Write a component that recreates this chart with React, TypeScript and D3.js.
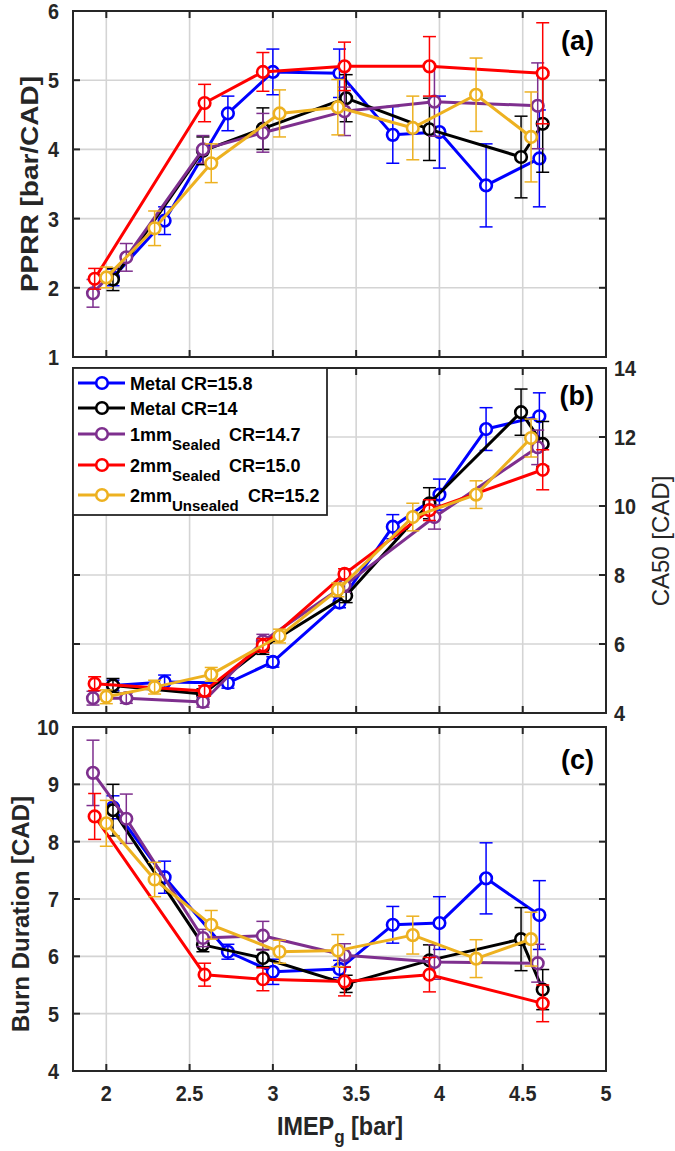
import React from 'react';
import * as d3 from 'd3';

// ---------- DATA ----------
const SERIES_NAMES = ['Metal', 'Metal', '1mm', '2mm', '2mm'];
const SERIES_SUBS = ['', '', 'Sealed', 'Sealed', 'Unsealed'];
const SERIES_CR = ['CR=15.8', 'CR=14', 'CR=14.7', 'CR=15.0', 'CR=15.2'];
const SERIES_COLORS = ['#0000FF', '#000000', '#7E2F8E', '#FF0000', '#EDB120'];

// IMEPg [bar]
const X_METAL158 = [2.04, 2.35, 2.73, 3.0, 3.4, 3.72, 4.0, 4.28, 4.6];
const X_METAL14 = [2.04, 2.58, 2.94, 3.44, 3.94, 4.49, 4.62];
const X_1MM_S = [1.92, 2.12, 2.58, 2.94, 3.43, 3.97, 4.59];
const X_2MM_S = [1.93, 2.59, 2.94, 3.43, 3.94, 4.62];
const X_2MM_U = [2.0, 2.29, 2.63, 3.04, 3.39, 3.84, 4.22, 4.55];

// (a) PPRR [bar/CAD]
const PPRR_METAL158 = [2.15, 2.97, 4.52, 5.12, 5.1, 4.21, 4.25, 3.48, 3.87];
const PPRR_METAL158_ERR = [0.12, 0.2, 0.25, 0.33, 0.35, 0.41, 0.52, 0.6, 0.7];
const PPRR_METAL14 = [2.12, 3.98, 4.3, 4.74, 4.29, 3.89, 4.37];
const PPRR_METAL14_ERR = [0.16, 0.2, 0.3, 0.34, 0.45, 0.59, 0.7];
const PPRR_1MM_S = [1.92, 2.44, 4.0, 4.24, 4.55, 4.69, 4.63];
const PPRR_1MM_S_ERR = [0.2, 0.2, 0.2, 0.28, 0.35, 0.5, 0.62];
const PPRR_2MM_S = [2.13, 4.67, 5.12, 5.2, 5.2, 5.1];
const PPRR_2MM_S_ERR = [0.15, 0.27, 0.28, 0.35, 0.43, 0.73];
const PPRR_2MM_U = [2.15, 2.86, 3.8, 4.52, 4.61, 4.31, 4.79, 4.18];
const PPRR_2MM_U_ERR = [0.15, 0.25, 0.28, 0.34, 0.4, 0.46, 0.53, 0.65];

// (b) CA50 [CAD]
const CA50_METAL158 = [4.8, 4.9, 4.87, 5.48, 7.2, 9.4, 10.33, 12.23, 12.6];
const CA50_METAL158_ERR = [0.15, 0.2, 0.15, 0.15, 0.15, 0.35, 0.45, 0.62, 0.68];
const CA50_METAL14 = [4.8, 4.55, 5.9, 7.4, 10.08, 12.72, 11.8];
const CA50_METAL14_ERR = [0.2, 0.15, 0.2, 0.2, 0.45, 0.67, 0.65];
const CA50_1MM_S = [4.43, 4.43, 4.32, 6.08, 7.7, 9.68, 11.7];
const CA50_1MM_S_ERR = [0.2, 0.15, 0.15, 0.2, 0.2, 0.35, 0.5];
const CA50_2MM_S = [4.85, 4.64, 5.96, 8.03, 9.88, 11.05];
const CA50_2MM_S_ERR = [0.2, 0.15, 0.2, 0.15, 0.3, 0.58];
const CA50_2MM_U = [4.47, 4.75, 5.12, 6.23, 7.57, 9.68, 10.33, 11.97];
const CA50_2MM_U_ERR = [0.2, 0.2, 0.2, 0.2, 0.2, 0.4, 0.4, 0.55];

// (c) Burn Duration [CAD]
const BD_METAL158 = [8.6, 7.38, 6.08, 5.73, 5.78, 6.55, 6.58, 7.36, 6.72];
const BD_METAL158_ERR = [0.2, 0.28, 0.13, 0.22, 0.15, 0.32, 0.46, 0.62, 0.6];
const BD_METAL14 = [8.55, 6.2, 5.97, 5.52, 5.93, 6.3, 5.42];
const BD_METAL14_ERR = [0.45, 0.12, 0.15, 0.15, 0.27, 0.55, 0.35];
const BD_1MM_S = [9.2, 8.4, 6.32, 6.36, 6.02, 5.9, 5.88];
const BD_1MM_S_ERR = [0.57, 0.43, 0.15, 0.25, 0.2, 0.3, 0.33];
const BD_2MM_S = [8.44, 5.68, 5.6, 5.56, 5.68, 5.18];
const BD_2MM_S_ERR = [0.4, 0.2, 0.2, 0.25, 0.3, 0.32];
const BD_2MM_U = [8.32, 7.34, 6.55, 6.08, 6.1, 6.37, 5.96, 6.3];
const BD_2MM_U_ERR = [0.4, 0.3, 0.25, 0.2, 0.28, 0.33, 0.33, 0.47];

const X_TICKS = [2, 2.5, 3, 3.5, 4, 4.5, 5];
const PPRR_TICKS = [1, 2, 3, 4, 5, 6];
const CA50_TICKS = [4, 6, 8, 10, 12, 14];
const BD_TICKS = [4, 5, 6, 7, 8, 9, 10];

// ---------- BUILD ----------
const XS = [X_METAL158, X_METAL14, X_1MM_S, X_2MM_S, X_2MM_U];
const PPRR = [PPRR_METAL158, PPRR_METAL14, PPRR_1MM_S, PPRR_2MM_S, PPRR_2MM_U];
const PPRR_ERR = [PPRR_METAL158_ERR, PPRR_METAL14_ERR, PPRR_1MM_S_ERR, PPRR_2MM_S_ERR, PPRR_2MM_U_ERR];
const CA50 = [CA50_METAL158, CA50_METAL14, CA50_1MM_S, CA50_2MM_S, CA50_2MM_U];
const CA50_ERR = [CA50_METAL158_ERR, CA50_METAL14_ERR, CA50_1MM_S_ERR, CA50_2MM_S_ERR, CA50_2MM_U_ERR];
const BD = [BD_METAL158, BD_METAL14, BD_1MM_S, BD_2MM_S, BD_2MM_U];
const BD_ERR = [BD_METAL158_ERR, BD_METAL14_ERR, BD_1MM_S_ERR, BD_2MM_S_ERR, BD_2MM_U_ERR];

const FONT = "'Liberation Sans', Arial, Helvetica, sans-serif";
const AX = '#262626';
const GRID = '#d4d4d4';
const LEFT = 73;
const RIGHT = 606;

const xScale = d3.scaleLinear().domain([1.8, 5]).range([LEFT, RIGHT]);

type PanelDef = {
  key: string;
  domain: [number, number];
  top: number;
  bottom: number;
  ticks: number[];
  values: number[][];
  errs: number[][];
  tickSide: 'left' | 'right';
  label: string;
  labelY: number;
  showX: boolean;
};

const PANELS: PanelDef[] = [
  { key: '(a)', domain: [1, 6], top: 11, bottom: 357, ticks: PPRR_TICKS, values: PPRR, errs: PPRR_ERR, tickSide: 'left', label: '(a)', labelY: 50, showX: false },
  { key: '(b)', domain: [4, 14], top: 368, bottom: 713, ticks: CA50_TICKS, values: CA50, errs: CA50_ERR, tickSide: 'right', label: '(b)', labelY: 405, showX: false },
  { key: '(c)', domain: [4, 10], top: 727, bottom: 1071, ticks: BD_TICKS, values: BD, errs: BD_ERR, tickSide: 'left', label: '(c)', labelY: 769, showX: true },
];

const TICK_FS = 22;
const TICK_SX = 0.9;

function Panel({ p }: { p: PanelDef }) {
  const y = d3.scaleLinear().domain(p.domain).range([p.bottom, p.top]);
  const line = d3.line<[number, number]>().x(d => xScale(d[0])).y(d => y(d[1]));
  const innerX = X_TICKS.filter(t => t > 1.8 && t < 5);
  const innerY = p.ticks.filter(t => t > p.domain[0] && t < p.domain[1]);
  return (
    <g>
      {innerX.map(t => (
        <line key={'gx' + t} x1={xScale(t)} x2={xScale(t)} y1={p.top} y2={p.bottom} stroke={GRID} strokeWidth={1.6} />
      ))}
      {innerY.map(t => (
        <line key={'gy' + t} x1={LEFT} x2={RIGHT} y1={y(t)} y2={y(t)} stroke={GRID} strokeWidth={1.6} />
      ))}
      {XS.map((xs, si) => {
        const color = SERIES_COLORS[si];
        const vals = p.values[si];
        const errs = p.errs[si];
        const pts = xs.map((xv, i) => [xv, vals[i]] as [number, number]);
        return (
          <g key={'s' + si}>
            <path d={line(pts) || ''} fill="none" stroke={color} strokeWidth={3} strokeLinejoin="round" />
            {pts.map((d, i) => (
              <circle key={'c' + i} cx={xScale(d[0])} cy={y(d[1])} r={5.8} fill="#fff" stroke={color} strokeWidth={2.6} />
            ))}
            {pts.map((d, i) => {
              const cx = xScale(d[0]);
              const y1 = y(d[1] - errs[i]);
              const y2 = y(d[1] + errs[i]);
              return (
                <g key={'e' + i} stroke={color} strokeWidth={1.5}>
                  <line x1={cx} x2={cx} y1={y1} y2={y2} />
                  <line x1={cx - 6.5} x2={cx + 6.5} y1={y1} y2={y1} />
                  <line x1={cx - 6.5} x2={cx + 6.5} y1={y2} y2={y2} />
                </g>
              );
            })}
          </g>
        );
      })}
      <rect x={LEFT} y={p.top} width={RIGHT - LEFT} height={p.bottom - p.top} fill="none" stroke={AX} strokeWidth={2} />
      {innerX.map(t => (
        <g key={'tx' + t} stroke={AX} strokeWidth={2}>
          <line x1={xScale(t)} x2={xScale(t)} y1={p.bottom} y2={p.bottom - 7} />
          <line x1={xScale(t)} x2={xScale(t)} y1={p.top} y2={p.top + 7} />
        </g>
      ))}
      {innerY.map(t => (
        <g key={'ty' + t} stroke={AX} strokeWidth={2}>
          <line x1={LEFT} x2={LEFT + 7} y1={y(t)} y2={y(t)} />
          <line x1={RIGHT} x2={RIGHT - 7} y1={y(t)} y2={y(t)} />
        </g>
      ))}
      {p.ticks.map(t => (
        <text
          key={'yl' + t}
          transform={`translate(${p.tickSide === 'left' ? LEFT - 14 : RIGHT + 8},${y(t) + 8}) scale(${TICK_SX},1)`}
          textAnchor={p.tickSide === 'left' ? 'end' : 'start'}
          fontSize={TICK_FS}
          fontWeight="bold"
          fill={AX}
        >
          {t}
        </text>
      ))}
      {p.showX && X_TICKS.map(t => (
        <text
          key={'xl' + t}
          transform={`translate(${xScale(t)},${p.bottom + 30}) scale(${TICK_SX},1)`}
          textAnchor="middle"
          fontSize={TICK_FS}
          fontWeight="bold"
          fill={AX}
        >
          {t}
        </text>
      ))}
      <text x={RIGHT - 12} y={p.labelY} textAnchor="end" fontSize={27} fontWeight="bold" fill="#000">
        {p.label}
      </text>
    </g>
  );
}

const LEG_ROWS = [383, 408, 434, 465, 495];
const LEG_CR_X = [0, 0, 229, 229, 248];

function Legend() {
  return (
    <g>
      <rect x={LEFT} y={368} width={254} height={147} fill="#fff" stroke={AX} strokeWidth={1.8} />
      {SERIES_NAMES.map((name, i) => {
        const cy = LEG_ROWS[i];
        const color = SERIES_COLORS[i];
        const sub = SERIES_SUBS[i];
        return (
          <g key={'lg' + i}>
            <line x1={78} x2={125} y1={cy} y2={cy} stroke={color} strokeWidth={3} />
            <circle cx={102} cy={cy} r={5.8} fill="#fff" stroke={color} strokeWidth={2.6} />
            <text x={130} y={cy + 6.5} fontSize={18} fontWeight="bold" fill="#000">
              {sub ? (
                <>
                  <tspan>{name}</tspan>
                  <tspan fontSize={15} dy={9}>{sub}</tspan>
                  <tspan x={LEG_CR_X[i]} dy={-9}>{SERIES_CR[i]}</tspan>
                </>
              ) : (
                <tspan>{name + ' ' + SERIES_CR[i]}</tspan>
              )}
            </text>
          </g>
        );
      })}
    </g>
  );
}

export default function App() {
  return (
    <svg
      width={675}
      height={1151}
      viewBox="0 0 675 1151"
      style={{ position: 'absolute', left: 0, top: 0, background: '#fff' }}
      fontFamily={FONT}
    >
      <rect x={0} y={0} width={675} height={1151} fill="#fff" />
      {PANELS.map(p => (
        <Panel key={p.key} p={p} />
      ))}
      <Legend />
      <text transform="translate(38,184) rotate(-90) scale(1,0.87)" textAnchor="middle" fontSize={28} fontWeight="bold" fill={AX}>
        PPRR [bar/CAD]
      </text>
      <text transform="translate(669,541) rotate(-90)" textAnchor="middle" fontSize={24} fill={AX}>
        CA50 [CAD]
      </text>
      <text transform="translate(29,914) rotate(-90)" textAnchor="middle" fontSize={24} fontWeight="bold" fill={AX}>
        Burn Duration [CAD]
      </text>
      <text transform="translate(340,1135) scale(0.9,1)" textAnchor="middle" fontSize={26} fontWeight="bold" fill={AX}>
        <tspan>IMEP</tspan>
        <tspan fontSize={19} dy={8}>g</tspan>
        <tspan dy={-8}> [bar]</tspan>
      </text>
    </svg>
  );
}
